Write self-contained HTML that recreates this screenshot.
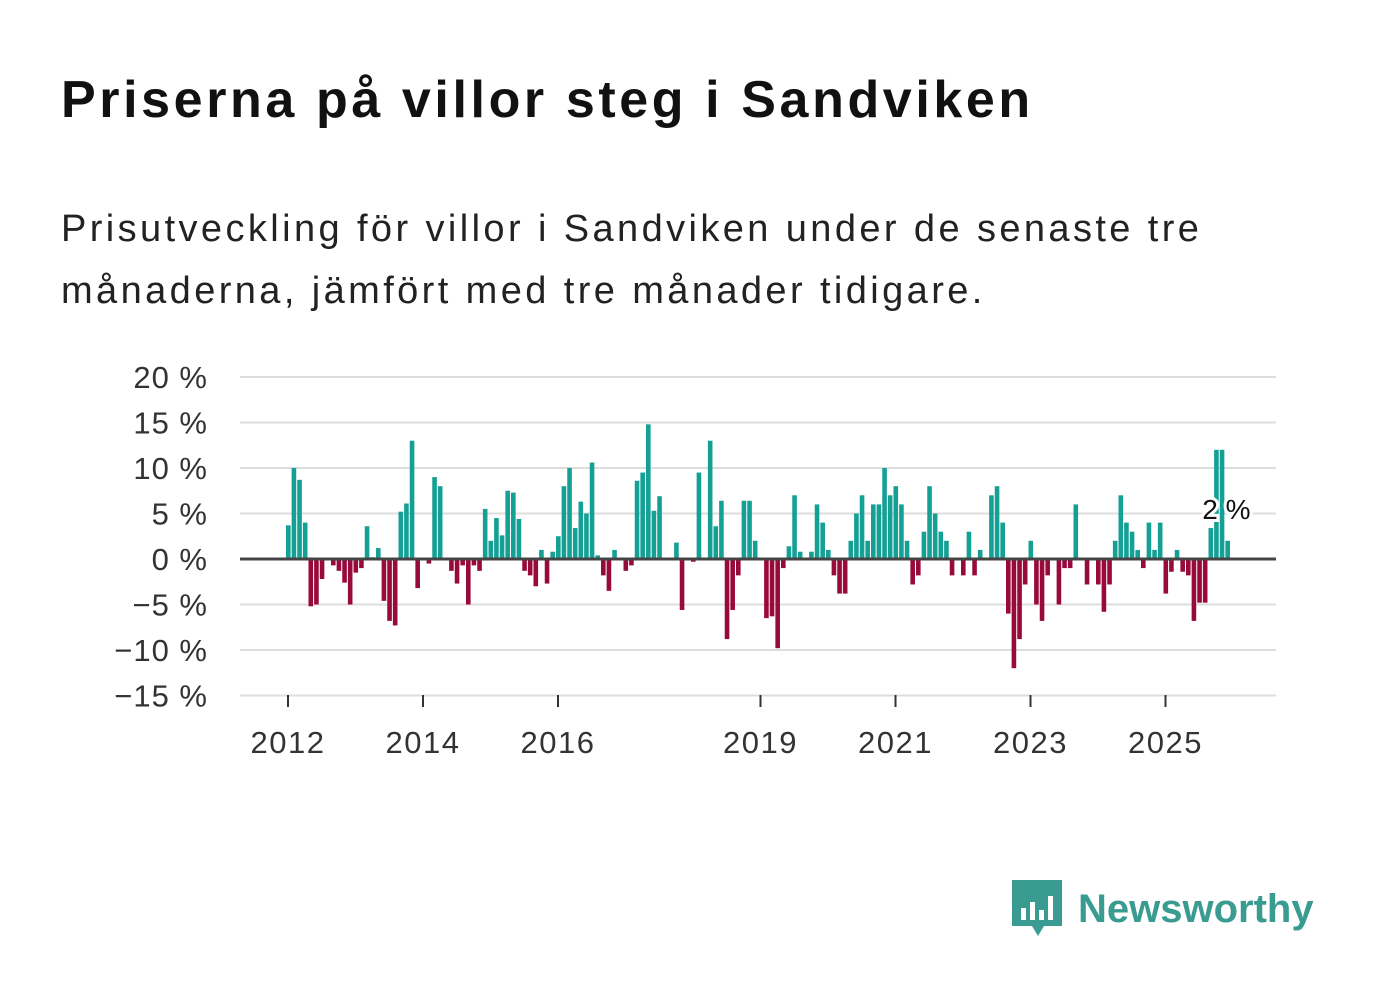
<!DOCTYPE html>
<html><head><meta charset="utf-8"><style>
body{margin:0;background:#fff;width:1382px;height:999px;overflow:hidden;font-family:"Liberation Sans","DejaVu Sans",sans-serif}
h1{position:absolute;left:61px;top:70px;margin:0;font-size:52px;font-weight:bold;color:#111;letter-spacing:3.6px;white-space:nowrap}
p{position:absolute;left:61px;top:198px;margin:0;font-size:38px;line-height:62px;color:#222;width:1240px;letter-spacing:3.4px}
</style></head><body>
<h1>Priserna på villor steg i Sandviken</h1>
<p>Prisutveckling för villor i Sandviken under de senaste tre månaderna, jämfört med tre månader tidigare.</p>
<svg id="c" width="1382" height="999" style="position:absolute;left:0;top:0"></svg>
<div style="position:absolute;left:1012px;top:880px;display:flex;align-items:center">
<svg width="50" height="58"><path d="M0 0H50V46H32L26 56L20 46H0Z" fill="#3a9c91"/><rect x="9" y="28" width="5" height="12" fill="#fff"/><rect x="18" y="22" width="5" height="18" fill="#fff"/><rect x="27" y="30" width="5" height="10" fill="#fff"/><rect x="36" y="16" width="5" height="24" fill="#fff"/></svg>
<span style="font-size:40px;font-weight:bold;color:#3a9c91;margin-left:16px">Newsworthy</span></div>
<script>
const values=[3.7,10,8.7,4,-5.2,-5,-2.2,0,-0.7,-1.3,-2.6,-5,
-1.5,-1,3.6,0.2,1.2,-4.6,-6.8,-7.3,5.2,6.1,13,-3.2,
0,-0.5,9,8,0,-1.3,-2.7,-0.7,-5,-0.7,-1.3,5.5,
2,4.5,2.6,7.5,7.3,4.4,-1.3,-1.8,-3,1,-2.7,0.8,
2.5,8,10,3.4,6.3,5,10.6,0.4,-1.8,-3.5,1,0,
-1.3,-0.7,8.6,9.5,14.8,5.3,6.9,0,0,1.8,-5.6,0,
-0.3,9.5,0,13,3.6,6.4,-8.8,-5.6,-1.8,6.4,6.4,2,
0,-6.5,-6.3,-9.8,-1,1.4,7,0.8,0,0.8,6,4,
1,-1.8,-3.8,-3.8,2,5,7,2,6,6,10,7,
8,6,2,-2.8,-1.8,3,8,5,3,2,-1.8,0,
-1.8,3,-1.8,1,0,7,8,4,-6,-12,-8.8,-2.8,
2,-5,-6.8,-1.8,0,-5,-1,-1,6,0,-2.8,0,
-2.8,-5.8,-2.8,2,7,4,3,1,-1,4,1,4,
-3.8,-1.4,1,-1.4,-1.8,-6.8,-4.8,-4.8,3.4,12,12,2];
const yTicks=[20,15,10,5,0,-5,-10,-15];
const xTickYears=[2012,2014,2016,2019,2021,2023,2025];
const startYear=2012;
const svg=document.getElementById('c');const NS='http://www.w3.org/2000/svg';
const y=v=>559-v*9.1;
const x=m=>288+m*5.625;
function mk(t,a){const e=document.createElementNS(NS,t);for(const k in a)e.setAttribute(k,a[k]);svg.appendChild(e);return e;}
yTicks.forEach(v=>{
const l=mk('line',{x1:240,x2:1276,y1:y(v),y2:y(v),stroke:'#ddd','stroke-width':2});


const t=mk('text',{x:208,y:y(v)+11,'text-anchor':'end','font-size':31,fill:'#333','letter-spacing':1});
t.textContent=(v<0?'−'+(-v):v)+' %';


});
values.forEach((v,i)=>{
const r=mk('rect',{x:x(i)-2,width:4.6,y:Math.min(y(v),y(0)),height:Math.abs(y(v)-y(0)),fill:v>=0?'#15a096':'#990a3c'});


});
const z=mk('line',{x1:240,x2:1276,y1:y(0),y2:y(0),stroke:'#444','stroke-width':3});


xTickYears.forEach(yr=>{
const xx=x((yr-startYear)*12);
const tk=mk('line',{x1:xx,x2:xx,y1:695,y2:707,stroke:'#333','stroke-width':2});


const t=mk('text',{x:xx,y:753,'text-anchor':'middle','font-size':31,fill:'#333','letter-spacing':1.5});
t.textContent=yr;


});
const last=values.length-1;
const lb=mk('text',{x:x(last)-1,y:519,'text-anchor':'middle','font-size':28,fill:'#111',stroke:'#fff','stroke-width':6,'paint-order':'stroke'});
lb.textContent=values[last]+' %';


</script>
</body></html>
